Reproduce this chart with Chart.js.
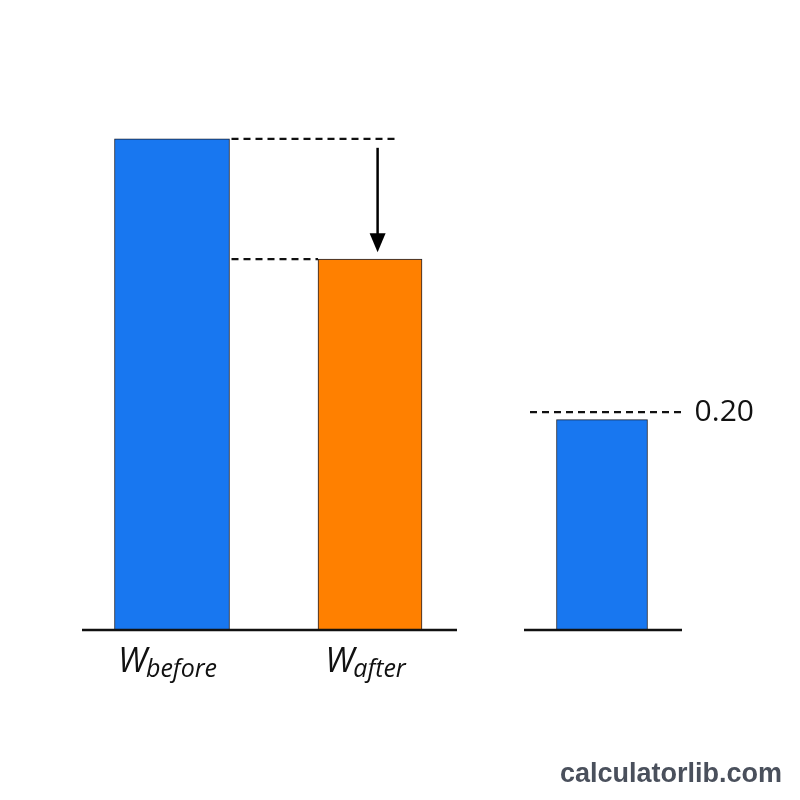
<!DOCTYPE html>
<html>
<head>
<meta charset="utf-8">
<script src="https://cdn.jsdelivr.net/npm/chart.js@4.4.1/dist/chart.umd.min.js"></script>
<style>
  html, body { margin: 0; padding: 0; background: #fff; }
  #wrap { width: 800px; height: 800px; }
</style>
</head>
<body>
<div id="wrap"><canvas id="chart" width="800" height="800"></canvas></div>
<script>
// data
const labelMain = ["W", "W", ""];
const labelSub = ["before", "after", ""];
const values = [0.452, 0.341, 0.193];
const slots = [0.45, 1.44, 2.6];          // x position of each bar (axis units)
const refValue = 0.20;
const refLabel = "0.20";

const blue = "#1877f0";
const orange = "#ff8000";
const edge = "#1b2233";

function dashed(ctx, x1, x2, y) {
  ctx.save();
  ctx.strokeStyle = "#111";
  ctx.lineWidth = 2.2;
  ctx.setLineDash([7, 5]);
  ctx.beginPath();
  ctx.moveTo(x1, y);
  ctx.lineTo(x2, y);
  ctx.stroke();
  ctx.restore();
}

// baselines, guide lines, arrow and labels
const overlay = {
  id: "overlay",
  afterDatasetsDraw(chart) {
    const ctx = chart.ctx;
    const xs = chart.scales.x, ys = chart.scales.y;
    const bars = [0, 1, 2].map(i => chart.getDatasetMeta(i).data[0]);
    const right = b => b.x + b.width / 2;
    const left = b => b.x - b.width / 2;

    // axis segments
    ctx.save();
    ctx.strokeStyle = "#111";
    ctx.lineWidth = 2.5;
    [[0, 1.875], [2.21, 3.0]].forEach(s => {
      ctx.beginPath();
      ctx.moveTo(xs.getPixelForValue(s[0]), ys.getPixelForValue(0) + 1);
      ctx.lineTo(xs.getPixelForValue(s[1]), ys.getPixelForValue(0) + 1);
      ctx.stroke();
    });
    ctx.restore();

    // before / after guides
    const yB = ys.getPixelForValue(values[0]);
    const yA = ys.getPixelForValue(values[1]);
    dashed(ctx, right(bars[0]) + 2, xs.getPixelForValue(1.57), yB);
    dashed(ctx, right(bars[0]) + 2, left(bars[1]), yA);

    // arrow
    const ax = xs.getPixelForValue(1.478);
    ctx.save();
    ctx.strokeStyle = "#000";
    ctx.fillStyle = "#000";
    ctx.lineWidth = 2.5;
    ctx.beginPath();
    ctx.moveTo(ax, yB + 9);
    ctx.lineTo(ax, yA - 20);
    ctx.stroke();
    ctx.beginPath();
    ctx.moveTo(ax - 8, yA - 26);
    ctx.lineTo(ax + 8, yA - 26);
    ctx.lineTo(ax, yA - 7);
    ctx.closePath();
    ctx.fill();
    ctx.restore();

    // reference line for third bar
    const yR = ys.getPixelForValue(refValue);
    dashed(ctx, xs.getPixelForValue(2.24), xs.getPixelForValue(3.01), yR);
    ctx.save();
    ctx.fillStyle = "#111";
    ctx.font = "30px 'Open Sans'";
    ctx.textBaseline = "middle";
    ctx.textAlign = "left";
    ctx.fillText(refLabel, xs.getPixelForValue(3.063), yR);
    ctx.restore();

    // category labels with subscripts
    const base = ys.getPixelForValue(0);
    ctx.save();
    ctx.fillStyle = "#111";
    ctx.textBaseline = "alphabetic";
    ctx.textAlign = "left";
    bars.forEach((b, i) => {
      if (!labelMain[i]) return;
      ctx.font = "italic 34px 'Open Sans'";
      const wMain = ctx.measureText(labelMain[i]).width;
      ctx.font = "italic 25px 'Open Sans'";
      const wSub = ctx.measureText(labelSub[i]).width;
      const x0 = b.x - 4 - (wMain + wSub) / 2;
      ctx.font = "italic 34px 'Open Sans'";
      ctx.fillText(labelMain[i], x0, base + 43);
      ctx.font = "italic 25px 'Open Sans'";
      ctx.fillText(labelSub[i], x0 + wMain - 1, base + 48);
    });
    ctx.restore();

    // watermark
    ctx.save();
    ctx.fillStyle = "#4a505c";
    ctx.font = "bold 27px 'Liberation Sans', Arial";
    ctx.textAlign = "right";
    ctx.textBaseline = "alphabetic";
    ctx.fillText("calculatorlib.com", 782, 782);
    ctx.restore();
  }
};

new Chart(document.getElementById("chart"), {
  type: "bar",
  data: {
    datasets: [
      { data: [{ x: slots[0], y: values[0] }], backgroundColor: blue, barThickness: 115 },
      { data: [{ x: slots[1], y: values[1] }], backgroundColor: orange, barThickness: 104 },
      { data: [{ x: slots[2], y: values[2] }], backgroundColor: blue, barThickness: 91 }
    ]
  },
  options: {
    responsive: false,
    animation: false,
    grouped: false,
    borderWidth: 1,
    borderColor: edge,
    layout: { padding: { left: 82, right: 118, top: 0, bottom: 171 } },
    plugins: { legend: { display: false }, tooltip: { enabled: false } },
    scales: {
      x: { type: "linear", min: 0, max: 3, offset: false, display: false },
      y: { min: 0, max: 0.58, display: false }
    }
  },
  plugins: [overlay]
});
</script>
</body>
</html>
